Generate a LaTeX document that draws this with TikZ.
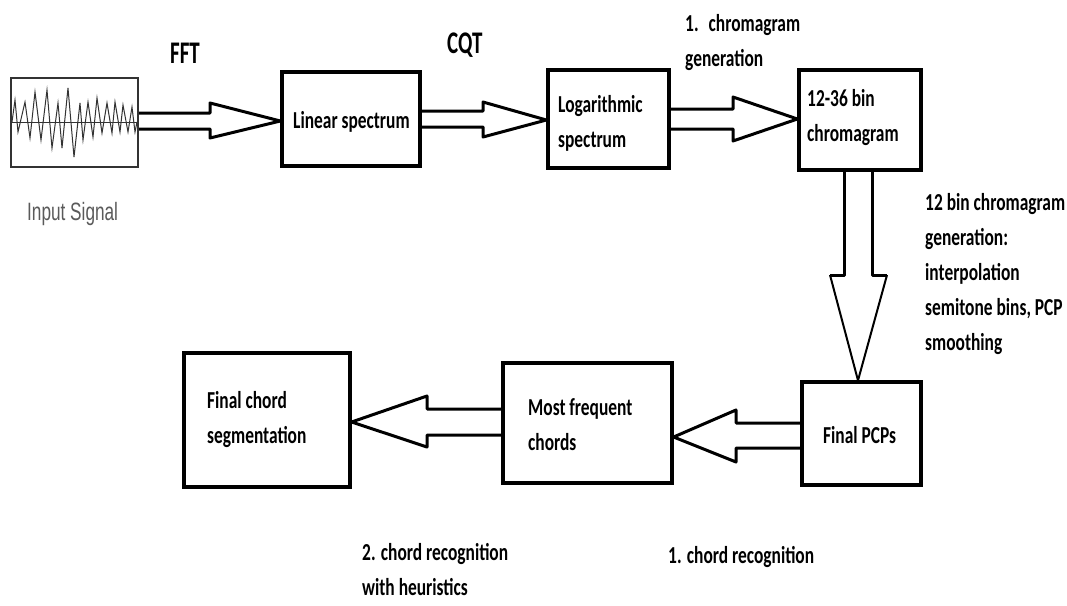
\documentclass[tikz,border=0pt]{standalone}
\usepackage{fontspec}
\usepackage{graphicx}
\newfontfamily\cali{Carlito}
\newfontfamily\arl{Liberation Sans}
\newcommand{\vt}[1]{\scalebox{1}[1.4]{#1}}
\newcommand{\vT}[1]{\scalebox{1}[1.5]{#1}}
\newcommand{\vs}[1]{\scalebox{1}[1.46]{#1}}
\definecolor{sgray}{HTML}{5A5A5A}
\definecolor{wgray}{HTML}{333333}
\begin{document}
\begin{tikzpicture}[x=1pt,y=-1pt,
  blk/.style={draw, line width=3.2pt, rectangle, inner sep=0pt},
  lbl/.style={anchor=base west, inner sep=0pt, align=left, font=\cali\bfseries\fontsize{17.4}{35}\selectfont},
  big/.style={anchor=base west, inner sep=0pt, font=\cali\bfseries\fontsize{21}{25}\selectfont},
  harrow/.style={draw, line width=3pt, line join=round},
  thinhead/.style={draw, line width=2pt, line join=round}]
\useasboundingbox (0,0) rectangle (1067,605);

% boxes
\node[blk, draw=wgray, line width=2pt, minimum width=127pt, minimum height=89pt] (sig) at (74.5,122.5) {};
\node[blk, minimum width=138pt, minimum height=94pt] (lin) at (351,119) {};
\node[blk, minimum width=121pt, minimum height=98pt] (log) at (608.5,119) {};
\node[blk, minimum width=122pt, minimum height=100pt] (chr) at (860,120) {};
\node[blk, minimum width=119pt, minimum height=103pt] (pcp) at (861.5,433.5) {};
\node[blk, minimum width=169pt, minimum height=120pt] (mfc) at (587.5,423) {};
\node[blk, minimum width=166pt, minimum height=134pt] (fcs) at (267,420) {};

% waveform
\draw[wgray, line width=1pt] (sig.west |- 0,122) -- (sig.east |- 0,122);
\draw[wgray, line width=1pt, line join=miter] plot coordinates {(12,122) (15,100) (18,132) (25,102) (30,138) (35,92) (41,140) (47,90) (52,148) (58,103) (62,148) (68,88) (74,157) (80,103) (83,140) (88,102) (93,137) (97,98) (102,133) (107,103) (112,133) (115,102) (120,132) (123,105) (128,132) (132,107) (135,132) (137,122)};

% hollow arrows
\draw[harrow] (sig.east |- 0,113) -- (210,113) -- (210,103) -- (lin.west |- 0,121) -- (210,138) -- (210,129) -- (sig.east |- 0,129);
\draw[harrow] (lin.east |- 0,111) -- (483,111) -- (483,102) -- (log.west |- 0,120) -- (483,137) -- (483,127) -- (lin.east |- 0,127);
\draw[harrow] (log.east |- 0,109) -- (733,109) -- (733,97) -- (chr.west |- 0,119) -- (733,141) -- (733,129) -- (log.east |- 0,129);
\draw[harrow] (chr.south -| 844,0) -- (844,275) -- (830,275);
\draw[harrow] (chr.south -| 872,0) -- (872,275) -- (887,275);
\draw[thinhead] (830,275) -- (858,0 |- pcp.north) -- (887,275);
\draw[harrow] (pcp.west |- 0,423) -- (736,423) -- (736,410) -- (mfc.east |- 0,437) -- (736,462) -- (736,448) -- (pcp.west |- 0,448);
\draw[harrow] (mfc.west |- 0,409) -- (427,409) -- (427,396) -- (fcs.east |- 0,422) -- (427,447) -- (427,435) -- (mfc.west |- 0,435);

% texts (base anchor = baseline of last line)
\node[lbl] (tlin) at (293,128) {\vt{Linear spectrum}};
\node[lbl] (tlog) at (558,147) {\vt{Logarithmic}\\\vt{spectrum}};
\node[lbl] (tchr) at (807,141) {\vt{12-36 bin}\\\vt{chromagram}};
\node[lbl] (tfcs) at (207,443) {\vt{Final chord}\\\vt{segmentation}};
\node[lbl] (tmfc) at (528,450) {\vt{Most frequent}\\\vt{chords}};
\node[lbl] (tpcp) at (823,443) {\vt{Final PCPs}};
\node[lbl] (t12) at (925,350) {\vt{12 bin chromagram}\\\vt{generation:}\\\vt{interpolation}\\\vt{semitone bins, PCP}\\\vt{smoothing}};
\node[lbl] (tcg) at (685,66) {\vt{1.\hspace{10pt}chromagram}\\\vt{generation}};
\node[lbl] (tcr2) at (362,595) {\vt{2. chord recognition}\\\vt{with heuristics}};
\node[lbl] (tcr1) at (668,563) {\vt{1. chord recognition}};
\node[big] (tfft) at (170,63) {\vT{FFT}};
\node[big] (tcqt) at (447,53) {\vT{CQT}};
\node[anchor=base west, inner sep=0pt, text=sgray, font=\arl\fontsize{17.2}{20}\selectfont] (tin) at (27,220) {\vs{Input Signal}};
\end{tikzpicture}
\end{document}
